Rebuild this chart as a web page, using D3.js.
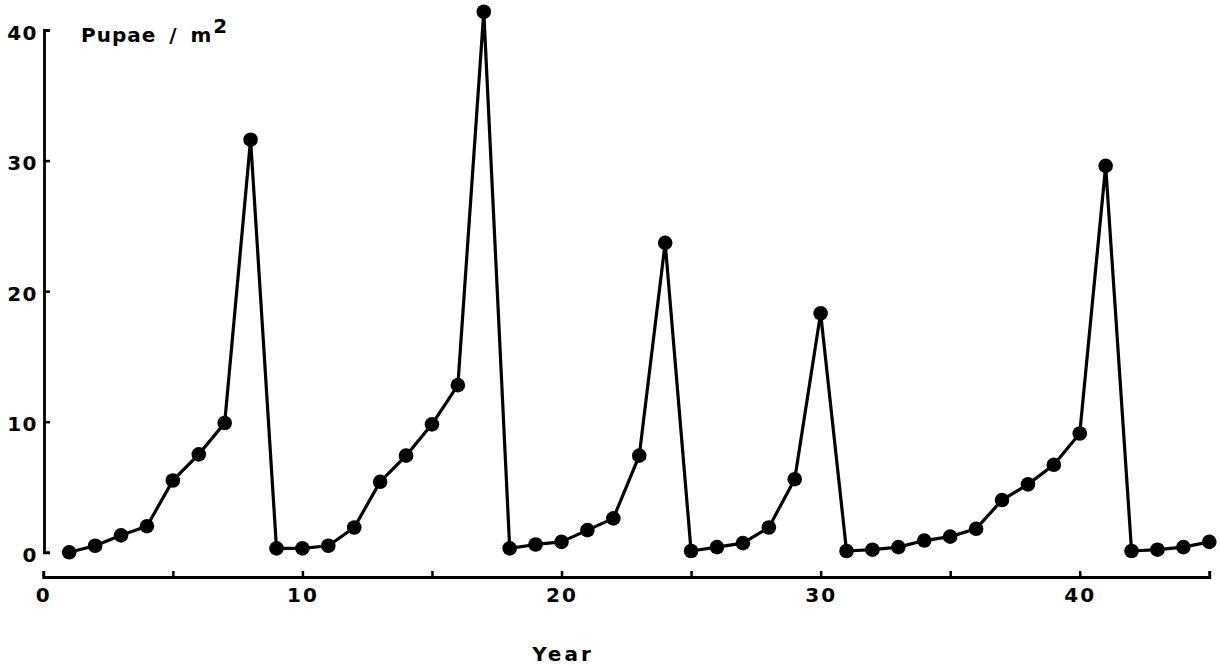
<!DOCTYPE html>
<html>
<head>
<meta charset="utf-8">
<script src="https://cdn.jsdelivr.net/npm/d3@7"></script>
<style>
  html, body { margin: 0; padding: 0; background: #fff; }
  svg { display: block; }
  .lbl { font-family: "DejaVu Sans", sans-serif; font-weight: bold; fill: #000; }
</style>
</head>
<body>
<svg id="chart" width="1220" height="666"></svg>
<script>
const years = [1,2,3,4,5,6,7,8,9,10,11,12,13,14,15,16,17,18,19,20,21,22,23,24,25,26,27,28,29,30,31,32,33,34,35,36,37,38,39,40,41,42,43,44,45];
const pupae = [0.0,0.5,1.3,2.0,5.5,7.5,9.9,31.6,0.3,0.3,0.5,1.9,5.4,7.4,9.8,12.8,41.4,0.3,0.6,0.8,1.7,2.6,7.4,23.7,0.1,0.4,0.7,1.9,5.6,18.3,0.1,0.2,0.4,0.9,1.2,1.8,4.0,5.2,6.7,9.1,29.6,0.1,0.2,0.4,0.8];
const xTicks = [0,5,10,15,20,25,30,35,40,45];
const xTickLabels = ["0","","10","","20","","30","","40",""];
const yTicks = [0,10,20,30,40];
const yTitle = "Pupae / m";
const yTitleSup = "2";
const xTitle = "Year";

const svg = d3.select("#chart");
const x = d3.scaleLinear().domain([0,45]).range([43.3,1209.3]);
const y = d3.scaleLinear().domain([0,40]).range([552.3,30]);

// Y axis
const gy = svg.append("g").attr("transform","translate(44,0)")
  .call(d3.axisLeft(y).tickValues(yTicks).tickSizeInner(-6).tickSizeOuter(-6).tickPadding(6));
gy.select(".domain").attr("stroke","#000").attr("stroke-width",2.8);
gy.selectAll(".tick line").attr("stroke","#000").attr("stroke-width",2.5);
gy.selectAll(".tick text").attr("class","lbl").style("font-size","20px").style("letter-spacing","1.5px").attr("dy","0.45em");

// X axis
const gx = svg.append("g").attr("transform","translate(0,577)")
  .call(d3.axisBottom(x).tickValues(xTicks).tickSizeInner(-6).tickSizeOuter(-6).tickPadding(11)
    .tickFormat((d,i)=>xTickLabels[i]));
gx.select(".domain").attr("stroke","#000").attr("stroke-width",2.8);
gx.selectAll(".tick line").attr("stroke","#000").attr("stroke-width",2.5);
gx.selectAll(".tick text").attr("class","lbl").style("font-size","20px").style("letter-spacing","2px");

// Line
const data = years.map((d,i)=>({yr:d, v:pupae[i]}));
svg.append("path").datum(data)
  .attr("fill","none").attr("stroke","#000").attr("stroke-width",3.2).attr("stroke-linejoin","round")
  .attr("d", d3.line().x(d=>x(d.yr)).y(d=>y(d.v)));
svg.append("g").selectAll("circle").data(data).join("circle")
  .attr("cx",d=>x(d.yr)).attr("cy",d=>y(d.v)).attr("r",7.3).attr("fill","#000");

// Titles
const t = svg.append("text").attr("class","lbl").attr("x",81).attr("y",42)
  .style("font-size","20px").style("letter-spacing","1px").style("word-spacing","5px");
t.append("tspan").text(yTitle);
t.append("tspan").attr("dy",-9).attr("dx",1).text(yTitleSup);

svg.append("text").attr("class","lbl").attr("x",563).attr("y",661).attr("text-anchor","middle")
  .style("font-size","20px").style("letter-spacing","3px").text(xTitle);
</script>
</body>
</html>
